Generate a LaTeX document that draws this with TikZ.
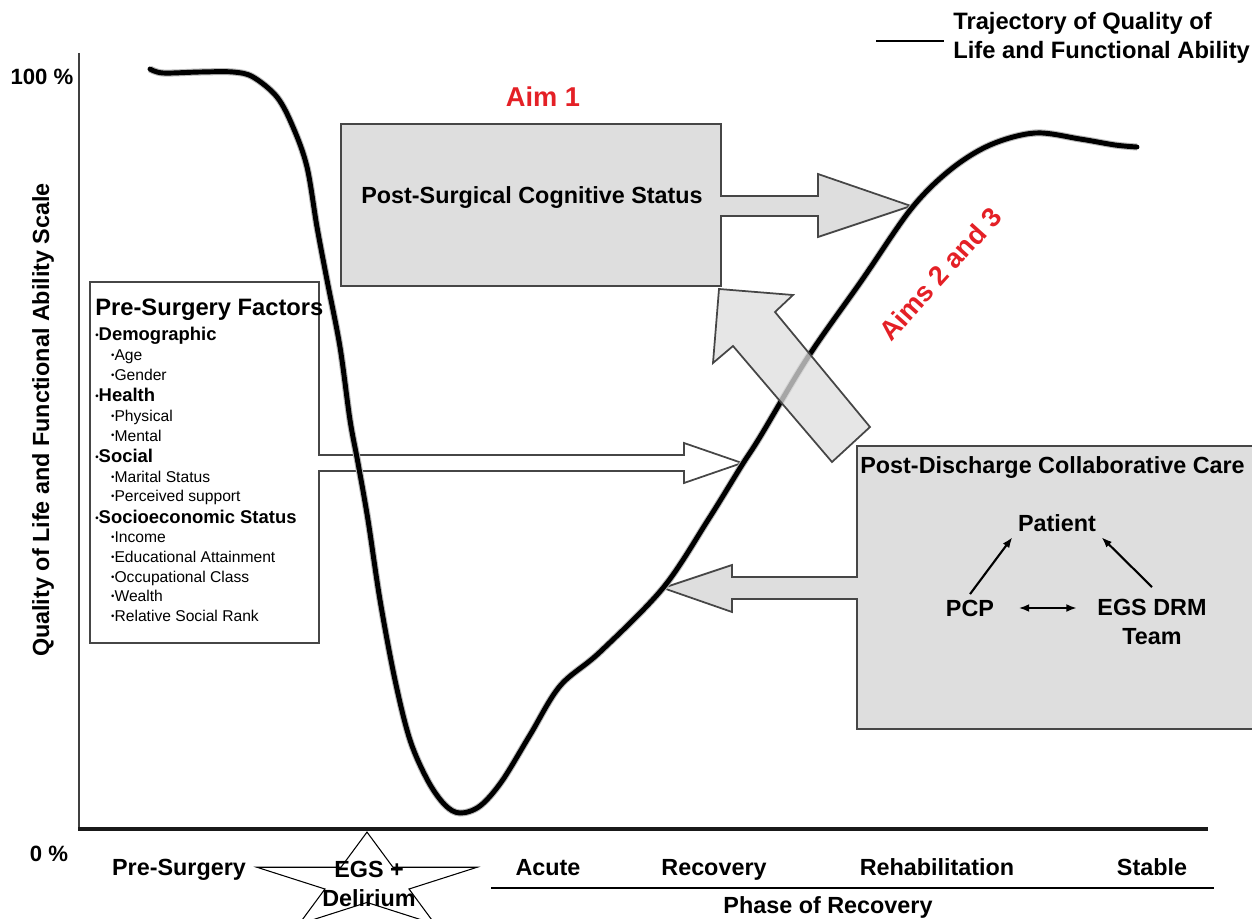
\documentclass[tikz,border=0pt]{standalone}
\usepackage{fontspec}
\setmainfont{Liberation Sans}
\usetikzlibrary{arrows.meta}

\definecolor{aimred}{RGB}{228,32,38}
\definecolor{boxgray}{RGB}{222,222,222}
\definecolor{edgegray}{RGB}{70,70,70}

\newcommand\factordot{\raisebox{1.2pt}{\fontsize{5.5}{5}\selectfont\textbullet}}
\newcommand\factorhead[1]{{\fontsize{10.5}{11.2}\selectfont\bfseries\factordot#1}}
\newcommand\factoritem[1]{\hspace*{9pt}\factordot#1}

\tikzset{
	lbl/.style={font=\fontsize{13.3}{16}\selectfont\bfseries, inner sep=0pt},
	phaselbl/.style={lbl, anchor=base},
	aim/.style={lbl, text=aimred, font=\fontsize{15.5}{18}\selectfont\bfseries},
	blockarrow/.style={draw=edgegray, line width=1pt, line join=miter},
	traj/.style={line width=2.8pt, line cap=round, line join=round},
	tipsmall/.style={line width=1.2pt, -{Latex[length=6pt,width=4.5pt]}}
}

\begin{document}
\begin{tikzpicture}[x=0.02cm, y=-0.02cm]
	\useasboundingbox (0,0) rectangle (1252,919);
	\clip (0,0) rectangle (1252,919);
	
	% axes
	\draw[line width=1.6pt, draw=black!75] (79,53) -- (79,829);
	\draw[line width=2.4pt, draw=black!90] (78,829) -- (1208,829);
	\node[lbl, font=\fontsize{12.6}{15}\selectfont\bfseries] (hundred) at (42,77) {100 \%};
	\node[lbl, font=\fontsize{12.6}{15}\selectfont\bfseries] (zero) at (49,854) {0 \%};
	\node[lbl, rotate=90] (ylabel) at (43,420) {Quality of Life and Functional Ability Scale};
	
	% star under the time axis
	\begin{scope}[shift={(367,883)}, yscale=-0.44]
		\draw[line width=0.6pt] (90:115.7) -- (126:44.2) -- (162:115.7) -- (198:44.2) -- (234:115.7)
			-- (270:44.2) -- (306:115.7) -- (342:44.2) -- (18:115.7) -- (54:44.2) -- cycle;
	\end{scope}
	
	% phases
	\node[phaselbl] (presurg)  at (179,875) {Pre-Surgery};
	\node[lbl, align=center] (egsdel) at (369,884) {EGS +\\Delirium};
	\node[phaselbl] (acute)    at (548,875) {Acute};
	\node[phaselbl] (recovery) at (714,875) {Recovery};
	\node[phaselbl] (rehab)    at (937,875) {Rehabilitation};
	\node[phaselbl] (stable)   at (1152,875) {Stable};
	\draw[line width=1pt] (491,888) -- (1214,888);
	\node[lbl] (phase) at (828,907) {Phase of Recovery};
	
	% pre-surgery factors box with arrow
	\filldraw[blockarrow, fill=white] (90,282) -- (319,282) -- (319,455) -- (684,455) -- (684,443)
		-- (742,463) -- (684,483) -- (684,471) -- (319,471) -- (319,643) -- (90,643) -- cycle;
	\node[anchor=north west, inner sep=0pt, align=left, font=\fontsize{8.9}{11.2}\selectfont] (factors) at (95,299) {%
		{\fontsize{13.5}{11.2}\selectfont\bfseries Pre-Surgery Factors}\\[3pt]
		\factorhead{Demographic}\\
		\factoritem{Age}\\
		\factoritem{Gender}\\[1pt]
		\factorhead{Health}\\
		\factoritem{Physical}\\
		\factoritem{Mental}\\[1pt]
		\factorhead{Social}\\
		\factoritem{Marital Status}\\
		\factoritem{Perceived support}\\[1pt]
		\factorhead{Socioeconomic Status}\\
		\factoritem{Income}\\
		\factoritem{Educational Attainment}\\
		\factoritem{Occupational Class}\\
		\factoritem{Wealth}\\
		\factoritem{Relative Social Rank}};
	
	% post-surgical cognitive status box with arrow
	\filldraw[blockarrow, fill=boxgray] (341,124) -- (721,124) -- (721,196) -- (818,196) -- (818,174)
		-- (911,206) -- (818,237) -- (818,216) -- (721,216) -- (721,286) -- (341,286) -- cycle;
	\node[lbl] (cogstatus) at (532,198) {Post-Surgical Cognitive Status};
	\node[aim] (aimone) at (543,97) {Aim 1};
	
	% post-discharge box with arrow
	\filldraw[blockarrow, fill=boxgray] (1262,446) -- (857,446) -- (857,577) -- (732,577) -- (732,565)
		-- (663,588) -- (732,612) -- (732,599) -- (857,599) -- (857,729) -- (1262,729) -- cycle;
	\node[lbl, anchor=west] (carehead) at (860,468) {Post-Discharge Collaborative Care};
	\node[lbl, inner sep=3pt] (patient) at (1057,523) {Patient};
	\node[lbl, inner sep=3pt] (pcp) at (970,608) {PCP};
	\node[lbl, inner sep=3pt, align=center] (egsteam) at (1152,622) {EGS DRM\\Team};
	\draw[tipsmall] (pcp.north) -- (patient.south west);
	\draw[tipsmall] ([yshift=4pt]egsteam.north) -- (patient.south east);
	\draw[tipsmall, {Latex[length=6pt,width=4.5pt]}-{Latex[length=6pt,width=4.5pt]},
		shorten <=10.8pt, shorten >=8.5pt] (pcp.east) -- (pcp.east -| egsteam.west);
	
	% trajectory
	\draw[traj, preaction={draw=gray!55, line width=4pt}] plot[smooth, tension=0.55] coordinates {
		(150,69) (163,73) (200,72) (233,72) (253,77) (277,97) (293,127) (307,167) (317,227)
		(327,280) (340,347) (350,420) (358,463) (368,520) (380,600) (395,680) (410,740)
		(428,781) (445,805) (460,813) (480,806) (502,781) (530,735) (560,686) (600,652)
		(663,588) (708,520) (742,465) (760,437) (808,357) (862,280) (911,209) (950,170)
		(990,145) (1035,133) (1080,139) (1115,145) (1137,147)};
	
	% diagonal arrow over the curve
	\filldraw[blockarrow, fill=boxgray, fill opacity=0.75] (719,289) -- (793,295) -- (775,312)
		-- (870,427) -- (832,462) -- (733,346) -- (713,363) -- cycle;
	\node[aim, rotate=48] (aimtwo) at (940,274) {Aims 2 and 3};
	
	% legend
	\node[lbl, anchor=west, align=left, font=\fontsize{13.5}{16.8}\selectfont\bfseries] (legend) at (953,38)
		{Trajectory of Quality of\\Life and Functional Ability};
	\coordinate (legstart) at (876,41);
	\draw[line width=1.7pt] (legstart) -- ([xshift=-5pt]legstart -| legend.west);
\end{tikzpicture}
\end{document}
